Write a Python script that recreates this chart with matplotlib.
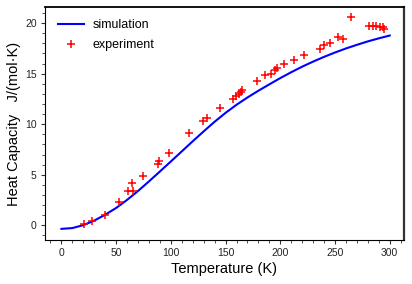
import numpy as np
import matplotlib
matplotlib.use("Agg")
import matplotlib.pyplot as plt
from matplotlib.ticker import MultipleLocator

plt.rcParams['font.family'] = ['Liberation Sans', 'DejaVu Sans']

# simulation curve
sim_T = [0, 10, 20, 30, 40, 50, 60, 70, 80, 90, 100, 110, 120, 130, 140, 150,
         160, 170, 180, 190, 200, 210, 220, 230, 240, 250, 260, 270, 280, 290, 300]
sim_C = [-0.35, -0.27, 0.02, 0.47, 1.05, 1.72, 2.52, 3.4, 4.35, 5.33, 6.32, 7.32,
         8.32, 9.3, 10.25, 11.13, 11.93, 12.65, 13.32, 13.95, 14.57, 15.15, 15.7,
         16.2, 16.67, 17.1, 17.5, 17.86, 18.2, 18.5, 18.78]

# experimental points
exp_T = [20.4, 28.3, 40, 53, 61.2, 65.3, 64.9, 74.7, 88.1, 89.3, 98.4, 116.5,
         129.2, 132.9, 144.8, 156.7, 159.1, 162.2, 164.3, 164.9, 178.6, 186.2,
         191.7, 195.3, 197.4, 203.8, 212.4, 221.6, 235.9, 240.1, 245.3, 252.3,
         256.9, 264.2, 281.3, 284.3, 287.4, 290.7, 293.8, 295]
exp_C = [0.13, 0.42, 1.05, 2.33, 3.41, 3.41, 4.14, 4.93, 6.08, 6.41, 7.13, 9.13,
         10.32, 10.61, 11.6, 12.52, 12.78, 12.98, 13.2, 13.4, 14.3, 14.85,
         15.0, 15.4, 15.6, 15.97, 16.4, 16.86, 17.45, 17.8, 18.08, 18.64,
         18.44, 20.57, 19.7, 19.7, 19.7, 19.6, 19.6, 19.45]

fig = plt.figure(figsize=(4.12, 2.84), dpi=100)
ax = fig.add_axes([45/412, 44/284, 359/412, 233/284])

ax.plot(sim_T, sim_C, color='#0000ff', lw=1.5, label='simulation')
ax.plot(exp_T, exp_C, '+', color='#ff0000', ms=6, mew=1.1, label='experiment')

ax.set_xlim(-15, 313)
ax.set_ylim(-1.45, 21.6)
ax.xaxis.set_major_locator(MultipleLocator(50))
ax.xaxis.set_minor_locator(MultipleLocator(10))
ax.yaxis.set_major_locator(MultipleLocator(5))
ax.yaxis.set_minor_locator(MultipleLocator(1))
ax.tick_params(which='major', direction='out', length=3, width=0.8,
               labelsize=7.5, pad=3, color='#333333', labelcolor='#222222')
ax.tick_params(which='minor', direction='out', length=2, width=0.6,
               color='#333333')

for s in ['left', 'bottom']:
    ax.spines[s].set_linewidth(0.8)
ax.spines['top'].set_linewidth(1.3)
ax.spines['right'].set_linewidth(1.6)
ax.spines['right'].set_color('#333333')

ax.set_xlabel('Temperature (K)', fontsize=10.5, labelpad=3)
ax.set_ylabel('Heat Capacity   J/(mol\u00b7K)', fontsize=10.5, labelpad=3)

ax.legend(loc='upper left', frameon=False, fontsize=9, handlelength=2.1,
          handletextpad=0.7, borderaxespad=0.6, labelspacing=0.6)

fig.savefig('out.png', dpi=100)
